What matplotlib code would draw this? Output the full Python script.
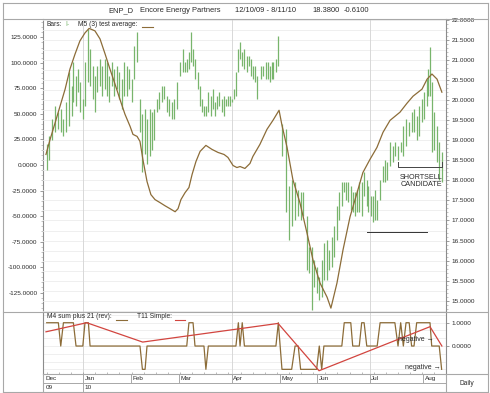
import matplotlib
matplotlib.use("Agg")
import matplotlib.pyplot as plt
import numpy as np
from matplotlib.lines import Line2D
from matplotlib.ticker import MultipleLocator, FormatStrFormatter

plt.rcParams['font.family'] = ['Liberation Sans', 'DejaVu Sans']

# ---------------- data ----------------
# bar position in trading sessions (0 = 12/10/09)
bar_pos = [0.0, 1.0, 2.1, 3.4, 4.8, 5.8, 6.9, 8.0, 9.3, 10.3,
           11.0, 12.1, 13.0, 13.7, 14.9, 15.8, 17.2, 17.9, 19.2, 19.9,
           20.9, 22.0, 22.7, 24.1, 24.8, 25.8, 26.8, 27.8, 28.9, 30.0,
           31.0, 31.9, 33.0, 34.1, 35.1, 36.0, 37.1, 38.5, 39.5, 40.6,
           41.4, 42.5, 43.5, 44.4, 45.5, 46.5, 47.6, 48.5, 49.5, 50.5,
           51.6, 52.5, 53.7, 55.0, 56.1, 57.1, 57.8, 58.7, 59.4, 60.4,
           61.2, 62.4, 63.3, 64.0, 64.9, 65.7, 66.7, 67.7, 68.5, 69.5,
           70.4, 71.2, 72.2, 73.2, 74.0, 74.8, 75.7, 76.4, 77.3, 78.1,
           79.1, 79.8, 80.7, 81.6, 82.5, 83.4, 84.3, 85.3, 86.0, 86.9,
           88.3, 89.4, 90.4, 91.2, 92.2, 92.9, 93.5, 94.6, 95.6, 97.1,
           98.8, 100.1, 101.1, 102.5, 103.8, 104.8, 105.9, 107.3, 108.4, 109.4,
           110.4, 111.4, 112.5, 113.5, 114.4, 115.6, 116.6, 117.6, 118.6, 119.7,
           120.8, 121.8, 122.8, 123.5, 124.5, 125.5, 126.3, 127.2, 128.2, 129.0,
           130.0, 131.0, 132.1, 132.7, 133.7, 134.5, 135.5, 136.4, 137.6, 138.7,
           139.6, 140.6, 141.7, 142.8, 143.7, 145.0, 146.1, 147.2, 148.3, 149.6,
           150.6, 151.6, 152.7, 153.8, 154.8, 155.7, 156.8, 157.5, 158.2, 158.9,
           159.8, 161.0, 162.0, 163.0]
bar_high = [18.90, 19.10, 19.52, 19.85, 19.70, 19.77, 19.52, 19.95, 20.70, 20.35,
            20.95, 20.60, 20.77, 20.45, 20.02, 20.95, 21.77, 21.27, 20.85, 20.60,
            20.85, 21.02, 20.85, 21.02, 20.95, 20.60, 20.95, 20.77, 20.85, 20.70,
            20.52, 20.95, 20.85, 20.77, 20.52, 21.35, 21.70, 20.02, 19.65, 19.77,
            19.52, 19.77, 19.70, 19.77, 20.02, 20.20, 20.35, 20.35, 20.10, 20.02,
            19.95, 20.02, 20.45, 20.95, 21.27, 20.95, 21.02, 21.20, 21.70, 21.27,
            21.02, 20.70, 20.35, 20.02, 19.85, 19.85, 20.20, 20.10, 20.27, 19.95,
            20.10, 20.20, 20.02, 20.10, 20.02, 20.10, 20.10, 20.02, 20.27, 20.70,
            21.27, 21.45, 21.20, 21.27, 21.10, 21.10, 21.02, 20.85, 20.85, 20.60,
            20.85, 20.85, 20.95, 20.95, 20.85, 20.95, 20.95, 21.02, 21.60, 19.40,
            19.27, 17.85, 18.02, 17.95, 17.77, 17.70, 17.70, 17.10, 16.35, 16.35,
            16.02, 15.85, 15.60, 16.02, 16.45, 16.52, 16.27, 16.60, 16.85, 17.35,
            17.70, 17.95, 17.95, 17.95, 17.95, 17.85, 17.70, 17.70, 17.77, 17.95,
            17.95, 18.20, 18.02, 17.85, 17.60, 17.60, 17.77, 17.52, 18.02, 18.35,
            18.52, 18.45, 18.95, 18.85, 18.95, 18.85, 18.95, 19.35, 19.52, 19.45,
            19.70, 19.77, 19.60, 19.85, 20.02, 20.20, 20.52, 20.77, 21.32, 20.45,
            19.70, 19.35, 18.95, 18.70]
bar_low = [18.27, 18.52, 19.02, 19.20, 19.27, 19.20, 19.10, 19.20, 19.35, 19.60,
           19.95, 19.85, 20.20, 19.70, 19.52, 19.85, 20.45, 20.35, 20.02, 19.70,
           20.20, 20.35, 20.10, 20.27, 20.10, 19.95, 20.35, 20.10, 20.27, 20.02,
           19.77, 20.10, 20.10, 20.27, 19.95, 20.52, 20.95, 19.20, 18.22, 18.65,
           18.40, 18.60, 18.77, 19.02, 19.70, 19.77, 19.95, 20.02, 19.70, 19.60,
           19.52, 19.52, 19.77, 20.60, 20.70, 20.70, 20.70, 20.77, 20.95, 20.85,
           20.52, 20.27, 19.85, 19.70, 19.60, 19.60, 19.70, 19.60, 19.77, 19.60,
           19.77, 19.85, 19.70, 19.60, 19.85, 19.85, 19.85, 19.95, 20.02, 20.10,
           20.70, 21.02, 20.85, 20.77, 20.70, 20.85, 20.60, 20.52, 20.45, 20.02,
           20.52, 20.60, 20.52, 20.52, 20.45, 20.52, 20.52, 20.70, 20.85, 18.60,
           17.22, 16.52, 16.85, 17.02, 17.10, 17.02, 17.10, 15.77, 15.70, 14.77,
           15.35, 15.20, 15.02, 15.10, 15.52, 15.52, 15.77, 15.85, 16.10, 16.52,
           17.02, 17.35, 17.70, 17.52, 17.45, 17.27, 17.20, 17.10, 17.20, 17.20,
           17.10, 17.60, 17.35, 17.20, 17.10, 16.95, 17.02, 17.02, 17.52, 17.95,
           17.95, 18.02, 18.35, 18.45, 18.60, 18.52, 18.70, 18.60, 18.85, 19.10,
           19.20, 19.20, 19.02, 19.10, 19.45, 19.52, 19.85, 20.10, 20.10, 18.70,
           18.77, 18.45, 18.02, 17.95]

# M5 (3) test average (left scale)
m5_pos = [-0.3, 1.4, 3.4, 5.5, 7.6, 9.6, 11.7, 13.7, 15.8, 17.5,
          19.9, 22.0, 24.1, 26.1, 28.2, 30.2, 32.3, 34.4, 35.6, 37.3,
          38.5, 39.7, 41.4, 43.0, 44.7, 46.8, 48.8, 50.9, 53.0, 54.2,
          55.4, 57.1, 58.7, 60.0, 61.6, 63.3, 65.7, 68.2, 70.7, 73.2,
          74.8, 76.9, 78.5, 79.8, 81.8, 83.9, 85.1, 88.0, 90.9, 93.4,
          95.9, 97.1, 99.2, 101.6, 104.5, 107.4, 109.9, 112.8, 115.7, 117.3,
          119.8, 122.3, 125.2, 128.1, 130.5, 133.4, 136.3, 138.8, 141.7, 145.8,
          148.7, 151.2, 154.9, 157.0, 159.0, 161.1, 163.1]
m5_val = [10.3, 25.1, 40.8, 57.6, 74.3, 94.0, 108.7, 121.5, 129.4, 133.8,
          131.4, 123.5, 108.7, 94.0, 79.2, 64.5, 49.7, 37.9, 30.0, 28.0,
          23.1, 5.4, -16.2, -29.0, -33.9, -36.9, -39.9, -42.8, -45.8, -42.8,
          -33.9, -27.1, -22.1, -9.3, 3.4, 13.3, 19.2, 15.3, 12.3, 10.3,
          7.4, -0.5, -2.5, -1.5, -3.4, 1.5, 8.4, 20.2, 34.9, 43.8,
          53.6, 38.9, 17.2, -14.3, -36.9, -66.4, -93.0, -115.6, -129.4, -140.2,
          -115.6, -83.1, -50.7, -27.1, -7.4, 5.4, 17.2, 32.0, 43.7, 51.7,
          60.5, 67.4, 74.3, 84.1, 89.1, 84.1, 71.3]

# M4 sum plus 21 (rev), one value per bar
m4_val = [1, 1, 1, 1, 1, 0, 1, 1, 1, 1,
          1, 0, 0, 0, 0, 1, 1, 0, 0, 0,
          0, 0, 0, 0, 0, 0, 0, 0, 0, 0,
          0, 0, 0, 0, 0, 0, 0, 0, -1, -1,
          0, 0, 0, 0, 0, 0, 0, 0, 0, 0,
          0, 0, 0, 0, 0, 0, 0, 1, 1, 1,
          0, 0, 0, 0, 0, -1, 0, 0, 0, 0,
          0, 0, 0, 0, 0, 0, 0, 0, 0, 0,
          1, 0, 1, 0, 0, 0, 0, 0, 0, 0,
          0, 0, 0, 0, 0, 0, 0, 0, 1, -1,
          -1, -1, -1, 0, 0, -1, -1, -1, -1, -1,
          -1, -1, 0, -1, 0, 0, 0, 0, 0, 0,
          0, 0, 1, 1, 1, 1, 0, 0, 0, 0,
          1, 1, 0, 0, 0, 0, 0, 0, 1, 1,
          1, 1, 1, 1, 1, 0, 1, 0, 1, 1,
          0, 0, 1, 1, 1, 1, 1, 1, 1, 0,
          0, 0, 0, -1]

# T11 Simple
t11_pos = [-0.3, 16.5, 39.6, 95.5, 112.4, 158.2, 163.1]
t11_val = [0.61, 1.00, 0.17, 0.97, -1.06, 0.83, 0.00]

month_labels = ['Jan', 'Feb', 'Mar', 'Apr', 'May', 'Jun', 'Jul', 'Aug']
month_start = [15.1, 34.8, 54.6, 76.4, 96.3, 111.7, 133.4, 155.4]
quarter_start = [15.1, 76.4, 133.4]
first_label = 'Dec'
year_labels = ['09', '10']
year_start = [15.1]

support_level = 16.72
support_span = [132.2, 157.0]
short_level = 18.34
short_span = [145.0, 163.0]

# ---------------- style ----------------
W, H = 490, 393
def fx(p): return p / W
def fy(p): return 1 - p / H

GRID = '#ededed'
FRAME = '#a8a8a8'
TXT = '#2a2a2a'
GREEN = '#78b56c'
BROWN = '#8c6c38'
RED = '#d2453f'
XL = (-1.53, 164.8)
L, R = 43, 446
FS = 4.6

fig = plt.figure(figsize=(4.9, 3.93), dpi=100)
fig.patch.set_facecolor('white')

# ---- upper panel ----
ax = fig.add_axes([fx(L), fy(312), fx(R) - fx(L), fy(19) - fy(312)])
ax.set_xlim(XL)
ax.set_ylim(-144.0, 143.0)
axr = ax.twinx()
axr.set_xlim(XL)
axr.set_ylim(14.717, 22.026)

for a in (ax, axr):
    for s in a.spines.values():
        s.set_visible(False)
ax.spines['left'].set_visible(True)
ax.spines['left'].set_color('#8c8c8c')
ax.spines['left'].set_linewidth(0.8)
axr.spines['right'].set_visible(True)
axr.spines['right'].set_color('#8c8c8c')
axr.spines['right'].set_linewidth(0.8)

ax.set_xticks([])
axr.set_xticks([])
ax.yaxis.set_major_locator(MultipleLocator(25))
ax.yaxis.set_minor_locator(MultipleLocator(5))
ax.yaxis.set_major_formatter(FormatStrFormatter('%.4f'))
axr.yaxis.set_major_locator(MultipleLocator(0.5))
axr.yaxis.set_minor_locator(MultipleLocator(0.1))
axr.yaxis.set_major_formatter(FormatStrFormatter('%.4f'))
ax.tick_params(axis='y', which='major', labelsize=FS, length=2.5, width=0.5,
               colors='#777777', labelcolor=TXT, pad=1.5)
ax.tick_params(axis='y', which='minor', length=1.2, width=0.4, colors='#999999')
axr.tick_params(axis='y', which='major', labelsize=FS, length=2.5, width=0.5,
                colors='#777777', labelcolor=TXT, pad=1.5)
axr.tick_params(axis='y', which='minor', length=1.2, width=0.4, colors='#999999')

# grids
for lv in np.arange(14.75, 22.01, 0.25):
    axr.axhline(lv, color=GRID, lw=0.6, zorder=0)
for q in quarter_start:
    axr.axvline(q, color='#d8d8d8', lw=0.7, zorder=0)

# bars
axr.vlines(bar_pos, bar_low, bar_high, color=GREEN, lw=0.9, zorder=2)

# annotation lines
axr.plot(support_span, [support_level, support_level], color='#333333', lw=0.7, zorder=3)
axr.plot([short_span[0], short_span[0], short_span[1], short_span[1]],
         [short_level + 0.12, short_level, short_level, short_level + 0.12],
         color='#444444', lw=0.7, zorder=3)
axr.text((short_span[0] + short_span[1]) / 2 + 0.5, short_level - 0.18,
         'SHORTSELL\nCANDIDATE', ha='center', va='top', fontsize=5.2,
         color=TXT, linespacing=0.95, zorder=4)

# M5 line on the left scale (drawn on top)
axm = ax.twinx()
axm.set_ylim(ax.get_ylim())
axm.set_xlim(XL)
axm.axis('off')
axm.plot(m5_pos, m5_val, color=BROWN, lw=0.9, zorder=5, solid_joinstyle='round')

# ---- lower panel ----
ax2 = fig.add_axes([fx(L), fy(374), fx(R) - fx(L), fy(312) - fy(374)])
ax2.set_xlim(XL)
ax2.set_ylim(-1.2, 1.46)
for s in ax2.spines.values():
    s.set_visible(False)
ax2.spines['left'].set_visible(True)
ax2.spines['left'].set_color('#8c8c8c')
ax2.spines['left'].set_linewidth(0.8)
ax2.spines['right'].set_visible(True)
ax2.spines['right'].set_color('#8c8c8c')
ax2.spines['right'].set_linewidth(0.8)
ax2.yaxis.tick_right()
ax2.set_yticks([0.0, 1.0])
ax2.yaxis.set_major_formatter(FormatStrFormatter('%.4f'))
ax2.tick_params(axis='y', labelsize=FS, length=2.5, width=0.5, colors='#777777',
                labelcolor=TXT, pad=1.5)
ax2.set_xticks(np.arange(0, 165, 5))
ax2.tick_params(axis='x', direction='in', length=1.8, width=0.4, colors='#888888',
                labelbottom=False, bottom=True)
for lv in np.arange(-1.0, 1.45, 1 / 3):
    ax2.axhline(lv, color=GRID, lw=0.6, zorder=0)
for q in quarter_start:
    ax2.axvline(q, color='#d8d8d8', lw=0.7, zorder=0)
ax2.plot(bar_pos, m4_val, color=BROWN, lw=0.9, zorder=3)
ax2.plot(t11_pos, t11_val, color=RED, lw=0.9, zorder=4)
ax2.text(159.6, 0.26, 'negative \u2192', ha='right', va='center', fontsize=5.0,
         color=TXT, zorder=5)
ax2.text(162.4, -0.94, 'negative \u2192', ha='right', va='center', fontsize=5.0,
         color=TXT, zorder=5)

# ---- date axis ----
ax3 = fig.add_axes([fx(L), fy(392), fx(R) - fx(L), fy(374) - fy(392)])
ax3.set_xlim(XL)
ax3.set_ylim(0, 2)
ax3.axis('off')
ax3.axhline(1, color=FRAME, lw=0.7)
ax3.vlines(month_start, 1, 2, color=FRAME, lw=0.7)
ax3.vlines(year_start, 0, 1, color=FRAME, lw=0.7)
ax3.text(XL[0] + 1.1, 1.5, first_label, ha='left', va='center', fontsize=FS, color=TXT)
for p, lab in zip(month_start, month_labels):
    ax3.text(p + 0.6, 1.5, lab, ha='left', va='center', fontsize=FS, color=TXT)
ax3.text(XL[0] + 1.1, 0.5, year_labels[0], ha='left', va='center', fontsize=FS, color=TXT)
ax3.text(year_start[0] + 0.6, 0.5, year_labels[1], ha='left', va='center', fontsize=FS, color=TXT)

# ---- frame lines (figure level) ----
def fline(x0, y0, x1, y1, c=FRAME, lw=0.8):
    fig.add_artist(Line2D([fx(x0), fx(x1)], [fy(y0), fy(y1)], color=c, lw=lw))

fline(3, 3, 488, 3)
fline(3, 392, 488, 392)
fline(3, 3, 3, 392)
fline(488, 3, 488, 392)
fline(3, 19, 488, 19)
fline(3, 312, 488, 312)
fline(43, 374, 488, 374)
fline(43, 374, 43, 392)
fline(446, 374, 446, 392)

# title
ty = fy(11)
tkw = dict(fontsize=5.4, color=TXT, va='center', ha='left')
fig.text(fx(108), ty, 'ENP_D', **tkw)
fig.text(fx(140), ty, 'Encore Energy Partners', **tkw)
fig.text(fx(235), ty, '12/10/09 - 8/11/10', **tkw)
fig.text(fx(312), ty, '18.3800', **tkw)
fig.text(fx(344), ty, '-0.6100', **tkw)

# legends
lkw = dict(fontsize=4.8, color=TXT, va='center', ha='left')
fig.text(fx(46.7), fy(24.5), 'Bars:', **lkw)
fig.text(fx(65), fy(24.5), 'I-', fontsize=4.8, color=GREEN, va='center', ha='left')
fig.text(fx(78.3), fy(24.5), 'M5 (3) test average:', **lkw)
fline(142, 27, 153, 27, c=BROWN, lw=0.8)

fig.text(fx(46.5), fy(316), 'M4 sum plus 21 (rev):', **lkw)
fline(115.5, 319.5, 126.5, 319.5, c=BROWN, lw=0.8)
fig.text(fx(136.7), fy(316), 'T11 Simple:', **lkw)
fline(175, 319.5, 185, 319.5, c=RED, lw=0.8)

fig.text(fx(466.5), fy(383.5), 'Daily', fontsize=4.8, color=TXT, va='center', ha='center')

fig.savefig('out.png', dpi=100)
